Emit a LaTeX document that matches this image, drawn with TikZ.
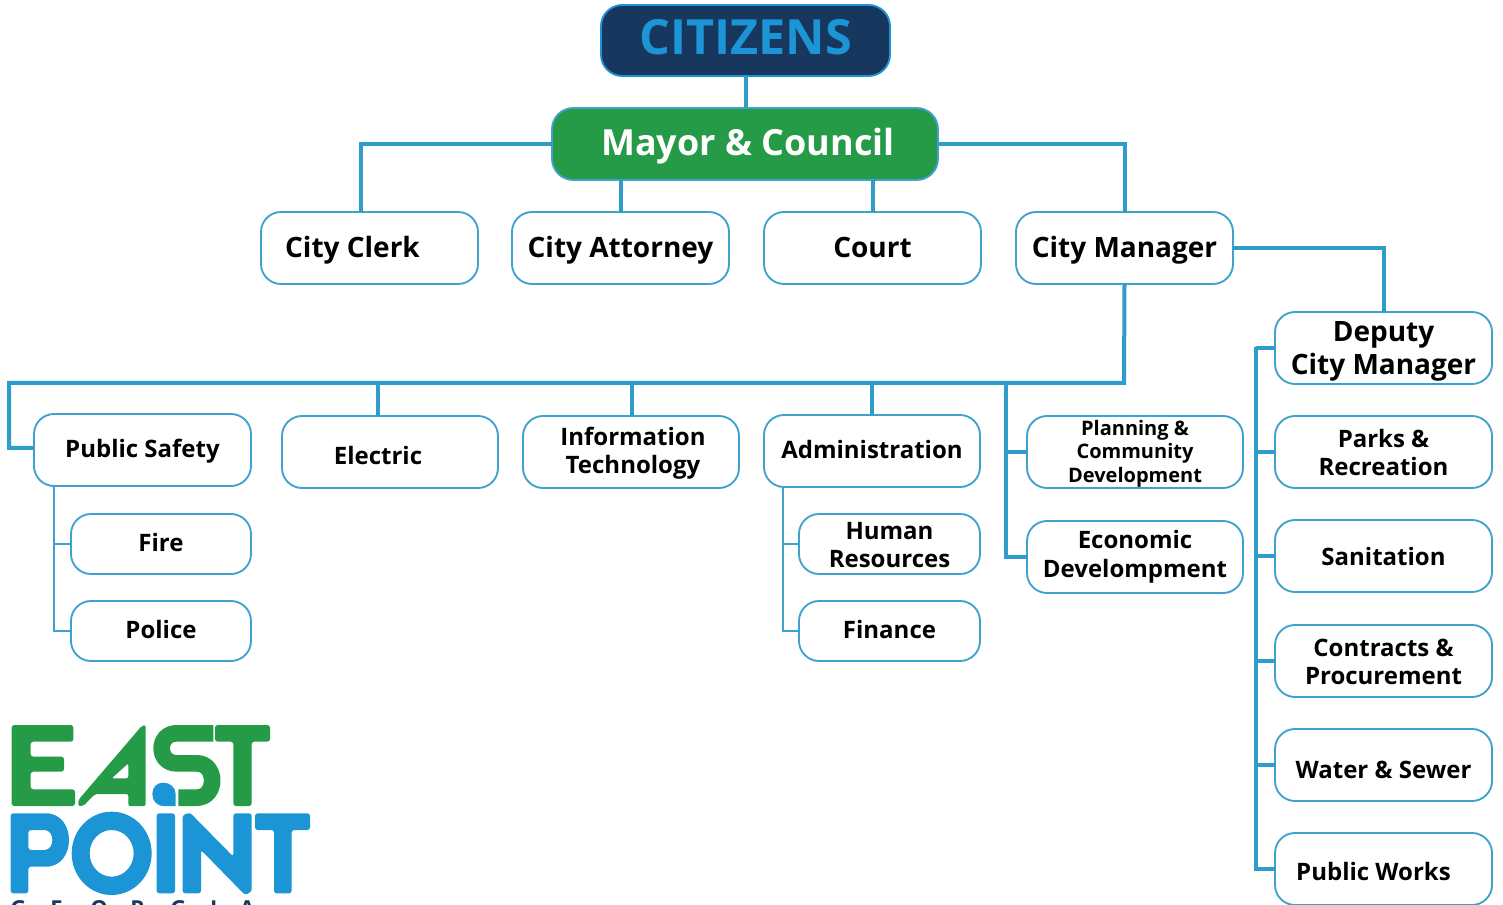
\documentclass[tikz,border=0pt]{standalone}
\usepackage{fontspec}
\setmainfont{Open Sans}
\usetikzlibrary{calc}
\definecolor{navy}{HTML}{17375E}
\definecolor{lgreen}{HTML}{259B47}
\definecolor{lblue}{HTML}{1B95D6}
\definecolor{linec}{HTML}{2E9DCC}
\definecolor{edgec}{HTML}{3FA2CE}
\newcommand\fpx[2]{\fontsize{\dimexpr#1pt*3/4\relax}{\dimexpr#2pt*3/4\relax}\selectfont\bfseries}
% \off{dx}{dy}: text offset in px (dy positive = downwards), used by the next \bx only
\newcommand\tdx{0}\newcommand\tdy{0}
\newcommand\off[2]{\renewcommand\tdx{#1}\renewcommand\tdy{#2}}
\newcommand\bx[8][box]{%
  \pgfmathsetmacro\bw{(#5-#3)*0.75}\pgfmathsetmacro\bh{(#6-#4)*0.75}%
  \node[#1,minimum width=\bw pt,minimum height=\bh pt] (#2) at ({(#3+#5)/2},{(#4+#6)/2})
    {\makebox[0pt][c]{\kern\dimexpr\tdx pt*3/4\relax\raisebox{\dimexpr-\tdy pt*3/4\relax}[0pt][0pt]{#7\begin{tabular}{@{}c@{}}#8\end{tabular}}\kern\dimexpr-\tdx pt*3/4\relax}};\off{0}{0}}
\tikzset{
  box/.style={draw=edgec,line width=1.4pt,fill=white,rounded corners=15pt,inner sep=0pt,outer sep=0pt,align=center,text=black},
  topbox/.style={box,draw=lblue,fill=navy,text=lblue,rounded corners=16pt},
  mayorbox/.style={box,fill=lgreen,text=white,rounded corners=16pt},
  wire/.style={draw=linec,line width=3pt},
  thin wire/.style={draw=edgec,line width=1.4pt},
}
\begin{document}
\begin{tikzpicture}[x=0.75pt,y=-0.75pt]
\useasboundingbox (0,0) rectangle (1503,905);
\clip (0,0) rectangle (1503,905);
\coordinate (clerktop) at (361,212);
\coordinate (busL) at (9,383);
\coordinate (busR) at (1124,383);
\coordinate (rail) at (1006,383);
\coordinate (elec) at (378,383);
\coordinate (itc) at (632,383);
\coordinate (adm) at (872,383);
\coordinate (hub) at (1256,347);
\coordinate (ps) at (54,486);
\coordinate (ad) at (783,487);
\coordinate (safetyin) at (34,448);
\off{0}{12}\bx[topbox]{citizens}{601}{5}{890}{76}{\fpx{48.5}{52}}{CITIZENS}
\off{3}{12}\bx[mayorbox]{mayor}{552}{108}{938}{180}{\fpx{36}{40}}{Mayor \& Council}
\off{-17}{10}\bx{clerk}{261}{212}{478}{284}{\fpx{28}{32}}{City Clerk}
\off{0}{10}\bx{attorney}{512}{212}{729}{284}{\fpx{28}{32}}{City Attorney}
\off{0}{10}\bx{court}{764}{212}{981}{284}{\fpx{28}{32}}{Court}
\off{0}{10}\bx{manager}{1016}{212}{1233}{284}{\fpx{28}{32}}{City Manager}
\off{0}{10}\bx{deputy}{1275}{312}{1492}{384}{\fpx{28}{33}}{Deputy\\City Manager}
\off{0}{8}\bx{safety}{34}{414}{251}{486}{\fpx{24}{28}}{Public Safety}
\off{-12}{13}\bx{electric}{282}{416}{498}{488}{\fpx{24}{28}}{Electric}
\off{2}{7.5}\bx{infotech}{523}{416}{739}{488}{\fpx{24}{28}}{Information\\Technology}
\off{0}{7.5}\bx{admin}{764}{415}{980}{487}{\fpx{24}{28}}{Administration}
\off{0}{7}\bx{planning}{1027}{416}{1243}{488}{\fpx{20}{24}}{Planning \&\\Community\\Development}
\off{0}{6}\bx{econ}{1027}{521}{1243}{593}{\fpx{24}{29}}{Economic\\Develompment}
\off{0}{8}\bx{fire}{71}{514}{251}{574}{\fpx{24}{28}}{Fire}
\off{0}{7.5}\bx{police}{71}{601}{251}{661}{\fpx{24}{28}}{Police}
\off{0}{9.5}\bx{hr}{799}{514}{980}{574}{\fpx{24}{28}}{Human\\Resources}
\off{0}{7.5}\bx{finance}{799}{601}{980}{661}{\fpx{24}{28}}{Finance}
\off{0}{10}\bx{parks}{1275}{416}{1492}{488}{\fpx{24}{28}}{Parks \&\\Recreation}
\off{0}{10}\bx{sanitation}{1275}{520}{1492}{592}{\fpx{24}{28}}{Sanitation}
\off{0}{10}\bx{contracts}{1275}{625}{1492}{697}{\fpx{24}{28}}{Contracts \&\\Procurement}
\off{0}{14}\bx{water}{1275}{729}{1492}{801}{\fpx{24}{28}}{Water \& Sewer}
\off{-10}{12}\bx{works}{1275}{833}{1492}{905}{\fpx{24}{28}}{Public Works}
\draw[wire] (citizens.south) -- (citizens.south |- mayor.north);
\draw[wire] (mayor.west) -| (clerktop);
\draw[wire] (attorney.north) -- (attorney.north |- mayor.south);
\draw[wire] (court.north) -- (court.north |- mayor.south);
\draw[wire] (mayor.east) -| (manager.north);
\draw[wire] (manager.east) -| (deputy.north);
\draw[wire] (manager.south) -- (busR) -- (busL) |- (safetyin);
\draw[wire] (elec) -- (elec |- electric.north);
\draw[wire] (itc) -- (itc |- infotech.north);
\draw[wire] (adm) -- (adm |- admin.north);
\draw[wire] (rail) |- (econ.west);
\draw[wire] (rail |- planning.west) -- (planning.west);
\draw[wire] (deputy.west) -| (hub) |- (works.west);
\draw[wire] (hub |- parks.west) -- (parks.west);
\draw[wire] (hub |- sanitation.west) -- (sanitation.west);
\draw[wire] (hub |- contracts.west) -- (contracts.west);
\draw[wire] (hub |- water.west) -- (water.west);
\draw[thin wire] (ps) |- (police.west);
\draw[thin wire] (ps |- fire.west) -- (fire.west);
\draw[thin wire] (ad) |- (finance.west);
\draw[thin wire] (ad |- hr.west) -- (hr.west);
\begin{scope}[shift={(0,700)},x=0.25pt,y=-0.25pt,line join=round]
 \fill[lgreen,rounded corners=2pt] (35,75) -- (220,75) -- (220,125) -- (92,125) -- (92,170) -- (192,170) -- (192,215) -- (92,215) -- (92,268) -- (225,268) -- (225,318) -- (35,318) -- cycle;
 \fill[lgreen,even odd rule,rounded corners=1.5pt] (235,300) -- (425,78) -- (437,75) -- (437,318) -- (385,318) -- (385,282) -- (285,282) -- (250,318) -- (235,318) -- cycle (385,190) -- (335,235) -- (385,235) -- cycle;
 \draw[lgreen,line width=12.5pt] (640,100) -- (530,100) .. controls (470,100) and (470,190) .. (530,190) -- (590,190) .. controls (652,190) and (652,293) .. (590,293) -- (535,293);
 \fill[lgreen,rounded corners=2pt] (645,75) -- (810,75) -- (810,125) -- (755,125) -- (755,318) -- (700,318) -- (700,125) -- (645,125) -- cycle;
 \fill[lblue] (490,248) .. controls (510,248) and (527,262) .. (527,282) -- (527,318) -- (492,318) .. controls (470,318) and (457,302) .. (457,282) .. controls (457,262) and (470,248) .. (490,248) -- cycle;
 \fill[lblue,even odd rule,rounded corners=2pt] (32,340) -- (130,340) .. controls (230,340) and (230,500) .. (130,500) -- (85,500) -- (85,580) -- (32,580) -- cycle (85,390) -- (85,450) -- (125,450) .. controls (165,450) and (165,390) .. (125,390) -- cycle;
 \fill[lblue,even odd rule] (335,460) circle[x radius=120,y radius=125] (335,460) circle[x radius=66,y radius=70];
 \fill[lblue,rounded corners=2pt] (470,340) -- (525,340) -- (525,580) -- (470,580) -- cycle;
 \fill[lblue,rounded corners=2pt] (548,345) -- (570,338) -- (700,470) -- (700,340) -- (755,340) -- (755,575) -- (735,585) -- (603,450) -- (603,580) -- (548,580) -- cycle;
 \fill[lblue,rounded corners=2pt] (765,340) -- (930,340) -- (930,390) -- (875,390) -- (875,580) -- (822,580) -- (822,390) -- (765,390) -- cycle;
\end{scope}
\node[anchor=west,inner sep=0pt,text=navy,font=\fpx{22}{24}] (georgia) at (10,909) {\makebox[30pt][l]{G}\makebox[30pt][l]{E}\makebox[30pt][l]{O}\makebox[30pt][l]{R}\makebox[30pt][l]{G}\makebox[22pt][l]{I}A};
\end{tikzpicture}
\end{document}
